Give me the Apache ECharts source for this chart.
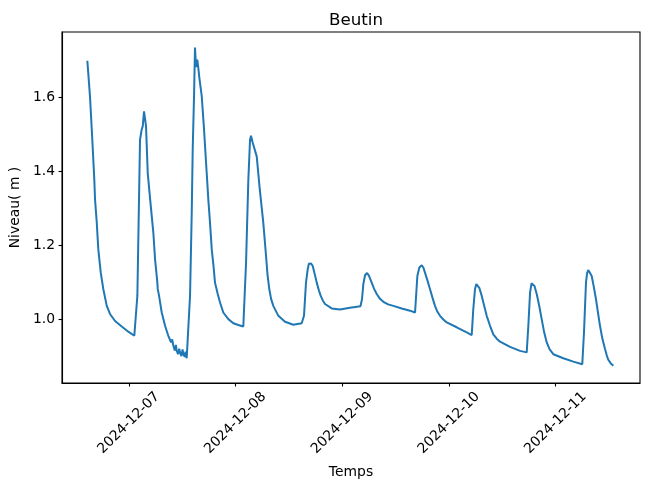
<!DOCTYPE html>
<html>
<head>
<meta charset="utf-8">
<script src="https://cdn.jsdelivr.net/npm/echarts@6/dist/echarts.min.js"></script>
<style>html,body{margin:0;padding:0;background:#fff}#c{width:649px;height:489px}</style>
</head>
<body>
<div id="c"></div>
<script>
const title = 'Beutin';
const xName = 'Temps';
const yName = 'Niveau( m )';
const xTickLabels = ['2024-12-07', '2024-12-08', '2024-12-09', '2024-12-10', '2024-12-11'];
const yTickValues = [1.0, 1.2, 1.4, 1.6];
const xRange = ['2024-12-06 08:58', '2024-12-11 18:59'];
const yRange = [0.827, 1.778];

// [timestamp, level (m)]
const times = [
 // 12-06 decay
 '2024-12-06 14:40','2024-12-06 15:16','2024-12-06 15:47','2024-12-06 16:14','2024-12-06 16:24','2024-12-06 16:47',
 '2024-12-06 17:08','2024-12-06 17:41','2024-12-06 18:16','2024-12-06 19:02','2024-12-06 19:46','2024-12-06 20:54',
 '2024-12-06 22:24','2024-12-06 23:53','2024-12-07 01:14','2024-12-07 01:24',
 // peak 2
 '2024-12-07 01:55','2024-12-07 02:18','2024-12-07 02:31','2024-12-07 02:54','2024-12-07 03:08','2024-12-07 03:25',
 '2024-12-07 03:43','2024-12-07 03:52','2024-12-07 04:15','2024-12-07 04:46','2024-12-07 05:31','2024-12-07 05:54',
 '2024-12-07 06:25','2024-12-07 06:30','2024-12-07 06:48','2024-12-07 07:24','2024-12-07 08:09','2024-12-07 08:53',
 '2024-12-07 09:10','2024-12-07 09:30','2024-12-07 09:45','2024-12-07 10:01','2024-12-07 10:20','2024-12-07 10:35',
 '2024-12-07 10:46','2024-12-07 11:05','2024-12-07 11:20','2024-12-07 11:31','2024-12-07 11:50','2024-12-07 12:05',
 '2024-12-07 12:16','2024-12-07 12:35','2024-12-07 12:45','2024-12-07 13:01','2024-12-07 13:15',
 // peak 3
 '2024-12-07 13:46','2024-12-07 14:09','2024-12-07 14:22','2024-12-07 14:40','2024-12-07 14:53','2024-12-07 15:07',
 '2024-12-07 15:24','2024-12-07 15:38','2024-12-07 15:51','2024-12-07 16:24','2024-12-07 16:55','2024-12-07 17:31',
 '2024-12-07 17:53','2024-12-07 18:16','2024-12-07 18:39','2024-12-07 19:00','2024-12-07 19:23','2024-12-07 20:00',
 '2024-12-07 20:31','2024-12-07 21:15','2024-12-07 22:23','2024-12-07 23:30','2024-12-08 00:38','2024-12-08 01:45',
 // peak 4
 '2024-12-08 02:22','2024-12-08 02:53','2024-12-08 03:16','2024-12-08 03:29','2024-12-08 03:52','2024-12-08 04:14',
 '2024-12-08 04:46','2024-12-08 05:28','2024-12-08 06:15','2024-12-08 06:52','2024-12-08 07:12','2024-12-08 07:36',
 '2024-12-08 08:00','2024-12-08 08:30','2024-12-08 09:38','2024-12-08 11:08','2024-12-08 13:00','2024-12-08 14:53',
 // peak 5
 '2024-12-08 15:24','2024-12-08 15:51','2024-12-08 16:14','2024-12-08 16:30','2024-12-08 16:45','2024-12-08 17:00',
 '2024-12-08 17:22','2024-12-08 17:45','2024-12-08 18:16','2024-12-08 18:45','2024-12-08 19:10','2024-12-08 19:40',
 '2024-12-08 20:08','2024-12-08 21:38','2024-12-08 23:30','2024-12-09 01:45',
 // peak 6
 '2024-12-09 04:06','2024-12-09 04:27','2024-12-09 04:45','2024-12-09 05:08','2024-12-09 05:35','2024-12-09 06:00',
 '2024-12-09 06:38','2024-12-09 07:10','2024-12-09 07:46','2024-12-09 08:30','2024-12-09 09:15','2024-12-09 10:20',
 '2024-12-09 11:30','2024-12-09 13:23','2024-12-09 15:15','2024-12-09 16:23',
 // peak 7
 '2024-12-09 16:54','2024-12-09 17:21','2024-12-09 17:53','2024-12-09 18:15','2024-12-09 18:37','2024-12-09 19:10',
 '2024-12-09 19:45','2024-12-09 20:20','2024-12-09 20:52','2024-12-09 21:25','2024-12-09 22:00','2024-12-09 22:45',
 '2024-12-09 23:30','2024-12-10 01:45','2024-12-10 04:00','2024-12-10 05:08',
 // peak 8
 '2024-12-10 05:29','2024-12-10 05:52','2024-12-10 06:10','2024-12-10 06:23','2024-12-10 06:50','2024-12-10 07:23',
 '2024-12-10 07:55','2024-12-10 08:30','2024-12-10 09:15','2024-12-10 09:59','2024-12-10 10:45','2024-12-10 11:30',
 '2024-12-10 13:45','2024-12-10 16:00','2024-12-10 17:30',
 // peak 9
 '2024-12-10 17:52','2024-12-10 18:15','2024-12-10 18:35','2024-12-10 18:51','2024-12-10 19:15','2024-12-10 19:45',
 '2024-12-10 20:20','2024-12-10 20:52','2024-12-10 21:25','2024-12-10 22:00','2024-12-10 22:40','2024-12-10 23:29',
 '2024-12-11 01:44','2024-12-11 03:59','2024-12-11 06:00',
 // peak 10
 '2024-12-11 06:23','2024-12-11 06:50','2024-12-11 07:05','2024-12-11 07:21','2024-12-11 07:45','2024-12-11 08:07',
 '2024-12-11 08:35','2024-12-11 09:05','2024-12-11 09:30','2024-12-11 09:59','2024-12-11 10:30','2024-12-11 11:07',
 '2024-12-11 11:30','2024-12-11 11:51','2024-12-11 12:25','2024-12-11 12:59'
];
const levels = [
 1.700,1.603,1.486,1.378,1.324,1.262,
 1.189,1.126,1.081,1.036,1.014,0.995,
 0.980,0.966,0.955,0.953,
 1.063,1.333,1.486,1.514,1.523,1.563,
 1.559,1.523,1.396,1.328,1.234,1.162,
 1.099,1.082,1.063,1.018,0.982,0.955,
 0.950,0.937,0.945,0.928,0.915,0.930,
 0.914,0.905,0.920,0.910,0.900,0.918,
 0.905,0.898,0.912,0.894,0.892,
 1.063,1.289,1.459,1.604,1.736,1.683,
 1.703,1.680,1.655,1.604,1.514,1.396,
 1.324,1.260,1.189,1.150,1.099,1.068,
 1.045,1.018,1.000,0.989,0.984,0.980,
 1.153,1.378,1.486,1.497,1.478,1.473,
 1.441,1.350,1.261,1.171,1.120,1.081,
 1.055,1.036,1.009,0.993,0.985,0.989,
 1.009,1.099,1.135,1.150,1.153,1.151,
 1.144,1.125,1.099,1.078,1.063,1.050,
 1.041,1.029,1.026,1.031,
 1.035,1.054,1.095,1.119,1.125,1.118,
 1.099,1.082,1.068,1.055,1.047,1.040,
 1.036,1.029,1.023,1.018,
 1.117,1.140,1.146,1.140,1.126,1.105,
 1.081,1.057,1.036,1.020,1.009,0.999,
 0.991,0.978,0.964,0.957,
 1.027,1.081,1.095,1.097,1.085,1.063,
 1.037,1.009,0.982,0.959,0.947,0.939,
 0.925,0.914,0.910,
 0.982,1.072,1.097,1.101,1.090,1.068,
 1.035,1.000,0.965,0.937,0.918,0.905,
 0.894,0.885,0.878,
 0.964,1.099,1.125,1.133,1.128,1.117,
 1.088,1.054,1.020,0.982,0.948,0.919,
 0.902,0.890,0.880,0.874
];

const FONT = 'DejaVu Sans';
const chart = echarts.init(document.getElementById('c'), null, {renderer: 'canvas'});
const parseT = s => new Date(s.replace(' ', 'T') + ':00').getTime();
const xTicks = xTickLabels.map(s => parseT(s + ' 00:00'));
const data = times.map((t, i) => [parseT(t), levels[i]]);
const pad = n => (n < 10 ? '0' : '') + n;
const fmtDate = v => { const d = new Date(v); return d.getFullYear() + '-' + pad(d.getMonth() + 1) + '-' + pad(d.getDate()); };

chart.setOption({
  animation: false,
  backgroundColor: '#fff',
  title: {
    text: title, left: 351, top: 7, textAlign: 'center',
    textStyle: {fontFamily: FONT, fontSize: 16.7, fontWeight: 'normal', color: '#000'}
  },
  grid: {left: 62, right: 9, top: 32, bottom: 106, show: true, borderColor: '#000', borderWidth: 1.1},
  xAxis: {
    type: 'value',
    min: parseT(xRange[0]), max: parseT(xRange[1]),
    name: xName, nameLocation: 'middle', nameGap: 82,
    nameTextStyle: {fontFamily: FONT, fontSize: 13.9, color: '#000'},
    axisLine: {show: true, lineStyle: {color: '#000', width: 1.1}},
    axisTick: {show: true, length: 3.5, lineStyle: {color: '#000', width: 1.1}, customValues: xTicks},
    axisLabel: {
      customValues: xTicks, rotate: 45, margin: 40, align: 'center', verticalAlign: 'middle',
      fontFamily: FONT, fontSize: 13.9, color: '#000',
      formatter: v => fmtDate(v)
    },
    splitLine: {show: false}
  },
  yAxis: {
    type: 'value', min: yRange[0], max: yRange[1],
    name: yName, nameLocation: 'middle', nameGap: 39,
    nameTextStyle: {fontFamily: FONT, fontSize: 13.9, color: '#000'},
    axisLine: {show: true, lineStyle: {color: '#000', width: 1.1}},
    axisTick: {show: true, length: 3.5, lineStyle: {color: '#000', width: 1.1}, customValues: yTickValues},
    axisLabel: {
      customValues: yTickValues, margin: 7, fontFamily: FONT, fontSize: 13.9, color: '#000',
      formatter: v => Number(v).toFixed(1)
    },
    splitLine: {show: false}
  },
  series: [{
    type: 'line', data: data, showSymbol: false, symbol: 'none',
    lineStyle: {color: '#1f77b4', width: 2},
    itemStyle: {color: '#1f77b4'}
  }]
});
</script>
</body>
</html>
